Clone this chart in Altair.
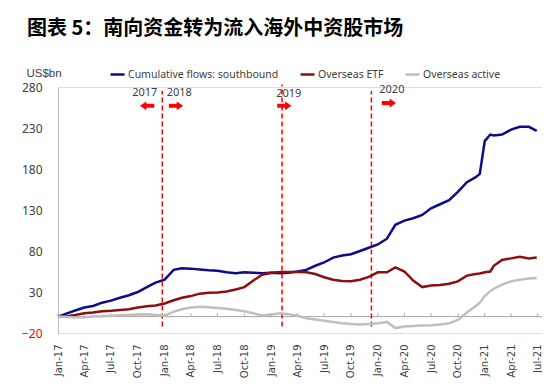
import altair as alt
import pandas as pd

# ---------------- data ----------------
dates = [
    "2017-01-01", "2017-02-01", "2017-03-01", "2017-04-01", "2017-05-01", "2017-06-01",
    "2017-07-01", "2017-08-01", "2017-09-01", "2017-10-01", "2017-11-01", "2017-12-01",
    "2018-01-01", "2018-02-01", "2018-03-01", "2018-04-01", "2018-05-01", "2018-06-01",
    "2018-07-01", "2018-08-01", "2018-09-01", "2018-10-01", "2018-11-01", "2018-12-01",
    "2019-01-01", "2019-02-01", "2019-03-01", "2019-04-01", "2019-05-01", "2019-06-01",
    "2019-07-01", "2019-08-01", "2019-09-01", "2019-10-01", "2019-11-01", "2019-12-01",
    "2020-01-01", "2020-02-01", "2020-03-01", "2020-04-01", "2020-05-01", "2020-06-01",
    "2020-07-01", "2020-08-01", "2020-09-01", "2020-10-01", "2020-11-01", "2020-12-01",
    "2020-12-15", "2021-01-01", "2021-01-20", "2021-02-01", "2021-03-01", "2021-04-01",
    "2021-05-01", "2021-06-01", "2021-06-28",
]

southbound = [
    0, 4, 7.5, 11, 13, 17, 19.5, 23, 26, 30, 36, 41.5,
    45, 57, 59, 58.5, 57.5, 56.5, 56, 54, 53, 54, 53.5, 53,
    53.5, 53, 53.5, 55, 57, 62, 66, 72, 74.5, 76, 80, 84,
    88, 95, 112, 117, 120, 124, 132, 137, 142, 152, 164, 170,
    174, 214, 222, 221, 222, 228, 231.5, 231.5, 226.5,
]

overseas_etf = [
    0, 0.5, 2, 4, 5, 6.5, 7, 8, 9, 11, 12.5, 13.5,
    16, 20, 23, 25, 28, 29, 29.5, 30.5, 33, 36, 44, 51,
    53.5, 54.5, 54.5, 54.5, 54, 52, 48, 45, 43.5, 43, 45, 48.5,
    54, 54, 60, 55, 44, 36, 38, 38.5, 40, 43, 50, 52,
    52.5, 54, 55, 62, 69, 71, 73, 71, 72,
]

overseas_active = [
    0, -0.5, -1, -0.8, 0, 0.5, 1, 1.5, 2, 2.5, 3, 2,
    1, 6, 9, 11, 12, 11.5, 10.5, 9.5, 8, 6.5, 4, 1.5,
    2.5, 4, 3, 1, -2, -3.5, -5, -6.5, -8, -9, -9.5, -9,
    -8, -6.5, -14, -12, -11.5, -11, -10.5, -9.5, -8, -4, 5, 13,
    17, 25, 31, 34, 39, 43, 45, 46.5, 47,
]

series_names = ["Cumulative flows: southbound", "Overseas ETF", "Overseas active"]
series_colors = ["#0c0c8a", "#8a0f0f", "#bfbfbf"]

y_tick_values = [-20, 30, 80, 130, 180, 230, 280]

quarter_dates = [
    "2017-01-01", "2017-04-01", "2017-07-01", "2017-10-01",
    "2018-01-01", "2018-04-01", "2018-07-01", "2018-10-01",
    "2019-01-01", "2019-04-01", "2019-07-01", "2019-10-01",
    "2020-01-01", "2020-04-01", "2020-07-01", "2020-10-01",
    "2021-01-01", "2021-04-01", "2021-07-01",
]

divider_dates = ["2017-12-24", "2019-02-07", "2019-12-10"]
divider_bottoms = [-12, -12, -12]
divider_tops = [275, 283, 275]

year_labels = ["2017", "2018", "2019", "2020"]
year_label_dates = ["2017-10-25", "2018-02-20", "2019-03-02", "2020-02-18"]
year_label_values = [273, 273, 271, 276]

arrow_dates = ["2017-11-02", "2018-02-09", "2019-02-15", "2020-02-08"]
arrow_values = [257, 257, 257, 260.5]
arrow_dirs = ["left", "right", "right", "right"]

title_text = "图表 5：南向资金转为流入海外中资股市场"

# ---------------- tables ----------------
def ts(d):
    return d + "T00:00:00"

rows = []
for name, vals in zip(series_names, [southbound, overseas_etf, overseas_active]):
    for d, v in zip(dates, vals):
        rows.append({"date": ts(d), "value": v, "series": name})
lines_df = pd.DataFrame(rows)

ticks_df = pd.DataFrame({"date": [ts(d) for d in quarter_dates],
                         "low": [0] * len(quarter_dates),
                         "high": [4] * len(quarter_dates)})
zero_df = pd.DataFrame({"start": [ts("2017-01-01")], "end": [ts("2021-07-16")], "value": [0]})
div_df = pd.DataFrame({"date": [ts(d) for d in divider_dates],
                       "low": divider_bottoms, "high": divider_tops})
lab_df = pd.DataFrame({"date": [ts(d) for d in year_label_dates],
                       "value": year_label_values, "label": year_labels})
arr_df = pd.DataFrame({"date": [ts(d) for d in arrow_dates],
                       "value": arrow_values, "dir": arrow_dirs})

RIGHT = "M-1,-0.28L0.1,-0.28L0.1,-0.62L1,0L0.1,0.62L0.1,0.28L-1,0.28Z"
LEFT = "M1,-0.28L-0.1,-0.28L-0.1,-0.62L-1,0L-0.1,0.62L-0.1,0.28L1,0.28Z"

# ---------------- scales & axes ----------------
x_scale = alt.Scale(domain=[alt.DateTime(year=2017, month=1, date=1),
                            alt.DateTime(year=2021, month=7, date=16)], nice=False)
y_scale = alt.Scale(domain=[-20, 280], nice=False, zero=False)

x_axis = alt.Axis(format="%b-%y", tickCount={"interval": "month", "step": 3},
                  labelAngle=-90, domain=False, ticks=False, grid=False,
                  labelFont="DejaVu Sans", labelFontSize=10, labelColor="#404040",
                  labelPadding=11, labelOverlap=False, title=None)
y_axis = alt.Axis(values=y_tick_values, grid=False, ticks=False, tickSize=0,
                  domainColor="#bfbfbf", domainWidth=1,
                  labelColor={"expr": "datum.value < 0 ? '#ff0000' : '#404040'"},
                  labelFont="Noto Sans", labelFontSize=12, labelPadding=16,
                  title="US$bn", titleAngle=0, titleAlign="left", titleBaseline="middle",
                  titleX=-32, titleY=-14, titleFont="Liberation Sans", titleFontSize=11.5,
                  titleFontWeight="normal", titleColor="#404040")


def X(field, t="T"):
    return alt.X(f"{field}:{t}", scale=x_scale, axis=x_axis, title=None)


def Y(field):
    return alt.Y(f"{field}:Q", scale=y_scale, axis=y_axis, title="US$bn")


lines = alt.Chart(lines_df).mark_line(strokeWidth=2.5).encode(
    x=X("date"),
    y=Y("value"),
    color=alt.Color("series:N",
                    scale=alt.Scale(domain=series_names, range=series_colors),
                    sort=series_names,
                    legend=alt.Legend(orient="none", legendX=51, legendY=-21,
                                      direction="horizontal", title=None,
                                      symbolType="stroke", symbolSize=196,
                                      symbolStrokeWidth=2.5,
                                      labelFont="Noto Sans", labelFontSize=10.5,
                                      labelColor="#404040", columnPadding=16,
                                      labelOffset=2, padding=0)),
)

zero_line = alt.Chart(zero_df).mark_rule(color="#a6a6a6", strokeWidth=1).encode(
    x=X("start"), x2="end:T", y=Y("value"))

zero_ticks = alt.Chart(ticks_df).mark_rule(color="#a6a6a6", strokeWidth=1).encode(
    x=X("date"), y=Y("low"), y2="high:Q")

dividers = alt.Chart(div_df).mark_rule(color="#ff0000", strokeWidth=1.5,
                                       strokeDash=[5, 3]).encode(
    x=X("date"), y=Y("low"), y2="high:Q")

labels = alt.Chart(lab_df).mark_text(font="Noto Sans", fontSize=11,
                                     color="#404040").encode(
    x=X("date"), y=Y("value"), text="label:N")

arrows = alt.Chart(arr_df).mark_point(filled=True, size=205, color="#ff0000",
                                      opacity=1, strokeWidth=0).encode(
    x=X("date"), y=Y("value"),
    shape=alt.Shape("dir:N", scale=alt.Scale(domain=["left", "right"], range=[LEFT, RIGHT]),
                    legend=None))

chart = alt.layer(zero_line, zero_ticks, dividers, lines, labels, arrows).properties(
    width=484, height=246,
    padding={"left": 50, "top": 79, "right": 0, "bottom": 55},
    autosize=alt.AutoSizeParams(type="none"),
    title=alt.TitleParams(text=title_text, anchor="start", frame="group",
                          font="Noto Sans CJK SC", fontSize=20, fontWeight="bold",
                          color="#000000", dx=-31, offset=11, baseline="alphabetic"),
).configure_view(stroke=None).configure(background="#ffffff")

chart.save("out.html", embed_options={"renderer": "svg", "actions": False})
